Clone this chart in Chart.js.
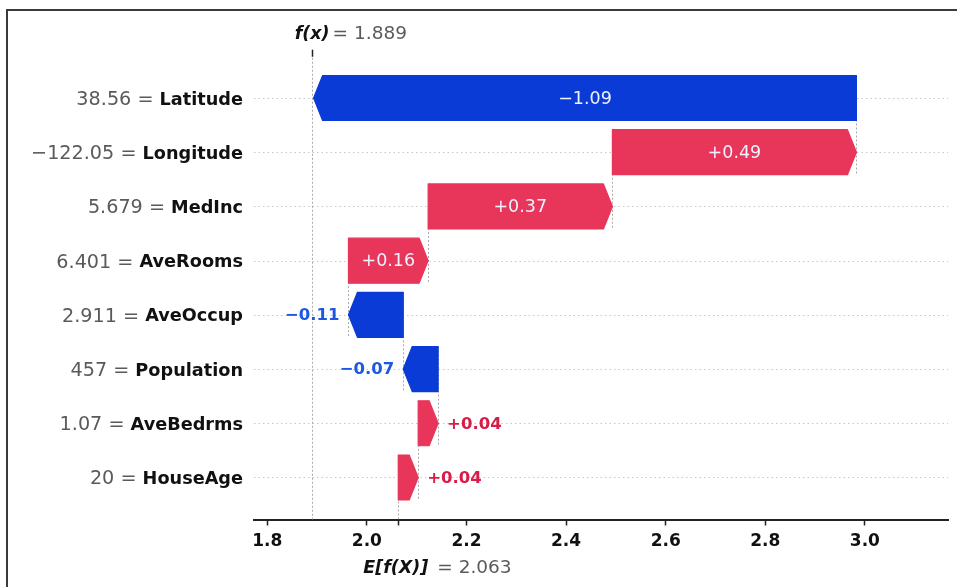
<!DOCTYPE html>
<html>
<head>
<meta charset="utf-8">
<script src="https://cdn.jsdelivr.net/npm/chart.js@4"></script>
<style>
  html, body { margin: 0; padding: 0; background: #fff; overflow: hidden; }
  #wrap { position: relative; width: 957px; height: 587px; }
</style>
</head>
<body>
<div id="wrap"><canvas id="c"></canvas></div>
<script>
// Features from top to bottom of the waterfall
const features = ['Latitude', 'Longitude', 'MedInc', 'AveRooms', 'AveOccup', 'Population', 'AveBedrms', 'HouseAge'];
const featureValues = ['38.56', '\u2212122.05', '5.679', '6.401', '2.911', '457', '1.07', '20'];
const shapValues = [-1.09, 0.49, 0.37, 0.16, -0.11, -0.07, 0.04, 0.04];
const baseValue = 2.063;   // E[f(X)]
const fxValue = 1.889;     // f(x)
const xTicks = [1.8, 2.0, 2.2, 2.4, 2.6, 2.8, 3.0];

const POS = '#e8355a', NEG = '#0b3bd6';
const POS_TXT = '#d81c47', NEG_TXT = '#1d58e3';
const GRAY = '#5a5a5a';
const FONT = '"DejaVu Sans", sans-serif';

// Cumulative positions: the bottom row starts at the base value
const n = features.length;
const starts = new Array(n), ends = new Array(n);
let acc = baseValue;
for (let i = n - 1; i >= 0; i--) {
  starts[i] = acc;
  acc += shapValues[i];
  ends[i] = acc;
}

function fmtSigned(v) {
  const s = Math.abs(v).toFixed(2);
  return (v >= 0 ? '+' : '\u2212') + s;
}

const waterfall = {
  id: 'waterfall',
  beforeDraw(chart) {
    const ctx = chart.ctx;
    ctx.save();
    ctx.fillStyle = '#fff';
    ctx.fillRect(0, 0, chart.width, chart.height);
    // frame
    ctx.strokeStyle = '#3a3a3a';
    ctx.lineWidth = 2;
    ctx.beginPath();
    ctx.moveTo(7, chart.height);
    ctx.lineTo(7, 10);
    ctx.lineTo(chart.width, 10);
    ctx.stroke();
    ctx.restore();
  },
  beforeDatasetsDraw(chart) {
    const ctx = chart.ctx, xs = chart.scales.x, ys = chart.scales.y, area = chart.chartArea;
    ctx.save();
    // dotted row guides
    ctx.strokeStyle = '#c8c8c8';
    ctx.lineWidth = 1;
    ctx.setLineDash([1.5, 3]);
    for (let i = 0; i < n; i++) {
      const y = Math.round(ys.getPixelForValue(i)) + 0.5;
      ctx.beginPath();
      ctx.moveTo(area.left, y);
      ctx.lineTo(area.right, y);
      ctx.stroke();
    }
    // dashed verticals
    ctx.strokeStyle = '#a8a8a8';
    ctx.setLineDash([2, 2]);
    const vline = (xv, y0, y1) => {
      const x = Math.round(xs.getPixelForValue(xv)) + 0.5;
      ctx.beginPath();
      ctx.moveTo(x, y0);
      ctx.lineTo(x, y1);
      ctx.stroke();
    };
    vline(fxValue, ys.getPixelForValue(-0.89), area.bottom);
    vline(baseValue, ys.getPixelForValue(n - 1), area.bottom);
    for (let i = 0; i < n - 1; i++) {
      vline(starts[i], ys.getPixelForValue(i - 0.415), ys.getPixelForValue(i + 1.415));
    }
    ctx.restore();
  },
  afterDatasetsDraw(chart) {
    const ctx = chart.ctx, xs = chart.scales.x, ys = chart.scales.y, area = chart.chartArea;
    const meta = chart.getDatasetMeta(0);
    ctx.save();
    ctx.setLineDash([]);
    ctx.lineJoin = 'round';
    ctx.textBaseline = 'middle';
    meta.data.forEach((el, i) => {
      const p = el.getProps(['x', 'base', 'y', 'height'], true);
      const left = Math.min(p.x, p.base), right = Math.max(p.x, p.base);
      const top = p.y - p.height / 2, bot = p.y + p.height / 2;
      const hl = Math.min(9, right - left);
      const positive = shapValues[i] >= 0;
      const col = positive ? POS : NEG;
      ctx.beginPath();
      if (positive) {
        ctx.moveTo(left, top);
        ctx.lineTo(right - hl, top);
        ctx.lineTo(right, p.y);
        ctx.lineTo(right - hl, bot);
        ctx.lineTo(left, bot);
      } else {
        ctx.moveTo(right, top);
        ctx.lineTo(left + hl, top);
        ctx.lineTo(left, p.y);
        ctx.lineTo(left + hl, bot);
        ctx.lineTo(right, bot);
      }
      ctx.closePath();
      ctx.fillStyle = col;
      ctx.strokeStyle = col;
      ctx.lineWidth = 1.2;
      ctx.fill();
      ctx.stroke();

      // value text: inside when it fits, otherwise beyond the arrow tip
      const label = fmtSigned(shapValues[i]);
      ctx.font = '17.5px ' + FONT;
      const w = ctx.measureText(label).width;
      if (w + 14 < right - left) {
        ctx.fillStyle = '#eef2ff';
        ctx.textAlign = 'center';
        ctx.fillText(label, (left + right) / 2, p.y + 1);
      } else {
        ctx.font = 'bold 16.5px ' + FONT;
        ctx.fillStyle = positive ? POS_TXT : NEG_TXT;
        if (positive) {
          ctx.textAlign = 'left';
          ctx.fillText(label, right + 9, p.y + 1);
        } else {
          ctx.textAlign = 'right';
          ctx.fillText(label, left - 9, p.y + 1);
        }
      }
    });

    // row labels: "value = feature"
    const labelRight = 243;
    for (let i = 0; i < n; i++) {
      const y = ys.getPixelForValue(i) + 2;
      ctx.font = 'bold 17.7px ' + FONT;
      ctx.fillStyle = '#111';
      ctx.textAlign = 'right';
      ctx.fillText(features[i], labelRight, y);
      const nw = ctx.measureText(features[i]).width;
      ctx.font = '19.2px ' + FONT;
      ctx.fillStyle = GRAY;
      ctx.fillText(featureValues[i] + ' = ', labelRight - nw, y);
    }

    // f(x) marker on top
    const xf = xs.getPixelForValue(fxValue);
    const xfr = Math.round(xf) + 0.5;
    ctx.strokeStyle = '#222';
    ctx.lineWidth = 1.5;
    ctx.beginPath();
    ctx.moveTo(xfr, ys.getPixelForValue(-0.89));
    ctx.lineTo(xfr, ys.getPixelForValue(-0.89) + 7);
    ctx.stroke();
    ctx.font = 'italic bold 17.5px ' + FONT;
    ctx.fillStyle = '#111';
    ctx.textAlign = 'right';
    ctx.fillText('f(x)', xf + 18, 34);
    ctx.font = '18.5px ' + FONT;
    ctx.fillStyle = GRAY;
    ctx.textAlign = 'left';
    ctx.fillText('= ' + fxValue.toFixed(3), xf + 21, 34);

    // E[f(X)] marker under the axis
    const xe = xs.getPixelForValue(baseValue);
    const xer = Math.round(xe) + 0.5;
    ctx.strokeStyle = '#222';
    ctx.beginPath();
    ctx.moveTo(xer, area.bottom);
    ctx.lineTo(xer, area.bottom + 6);
    ctx.stroke();
    ctx.font = 'italic bold 17.5px ' + FONT;
    ctx.fillStyle = '#111';
    ctx.textAlign = 'right';
    ctx.fillText('E[f(X)]', xe + 30, 568);
    ctx.font = '18.5px ' + FONT;
    ctx.fillStyle = GRAY;
    ctx.textAlign = 'left';
    ctx.fillText('= ' + baseValue.toFixed(3), xe + 39, 568);
    ctx.restore();
  }
};

new Chart(document.getElementById('c'), {
  type: 'bar',
  data: {
    datasets: [{
      data: features.map((f, i) => ({ x: [starts[i], ends[i]], y: i })),
      backgroundColor: 'rgba(0,0,0,0)',
      borderWidth: 0,
      barThickness: 45,
      grouped: false
    }]
  },
  options: {
    indexAxis: 'y',
    responsive: true,
    maintainAspectRatio: false,
    devicePixelRatio: 1,
    animation: false,
    events: [],
    layout: { padding: { left: 254, right: 9, top: 44, bottom: 37.5 } },
    plugins: { legend: { display: false }, tooltip: { enabled: false } },
    scales: {
      x: {
        type: 'linear',
        min: 1.7733,
        max: 3.1669,
        offset: false,
        afterBuildTicks: (s) => { s.ticks = xTicks.map(v => ({ value: v })); },
        afterFit: (s) => { s.height = 30; },
        border: { display: true, color: '#222', width: 2 },
        grid: { drawOnChartArea: false, tickLength: 6, tickColor: '#222', tickWidth: 1.5 },
        ticks: {
          padding: 6,
          color: '#111',
          font: { family: 'DejaVu Sans', size: 17, weight: 'bold' },
          callback: (v) => Number(v).toFixed(1)
        }
      },
      y: {
        type: 'linear',
        reverse: true,
        min: -0.996,
        max: 7.775,
        offset: false,
        display: false
      }
    }
  },
  plugins: [waterfall]
});
</script>
</body>
</html>
